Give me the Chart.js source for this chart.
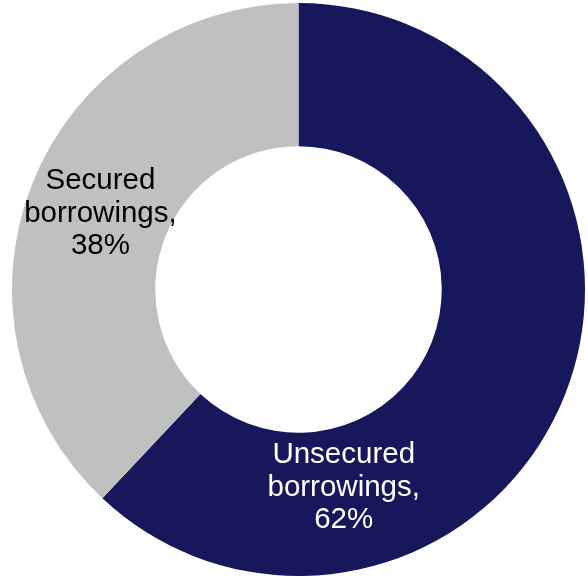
<!DOCTYPE html>
<html>
<head>
<meta charset="utf-8">
<script src="https://cdn.jsdelivr.net/npm/chart.js@4/dist/chart.umd.min.js"></script>
<style>
  html, body { margin: 0; padding: 0; background: #fff; }
  #wrap { width: 588px; height: 576px; }
</style>
</head>
<body>
<div id="wrap"><canvas id="c"></canvas></div>
<script>
// data
const labels = ['Unsecured borrowings', 'Secured borrowings'];
const shares = [62, 38];
const colors = ['#17175B', '#C0C0C0'];
const textColors = ['#ffffff', '#000000'];
// label anchor: angle (deg, clockwise from top) and distance from centre
const labelAngles = [167, 291.6];
const labelDist = [201, 213];

// draw the "name, xx%" labels in three lines
const sliceLabels = {
  id: 'sliceLabels',
  afterDatasetsDraw(chart) {
    const ctx = chart.ctx;
    const meta = chart.getDatasetMeta(0);
    ctx.save();
    ctx.font = '29.5px "Liberation Sans", Arial, sans-serif';
    ctx.textAlign = 'center';
    ctx.textBaseline = 'alphabetic';
    meta.data.forEach(function (arc, i) {
      const a = labelAngles[i] * Math.PI / 180;
      const cx = arc.x + labelDist[i] * Math.sin(a);
      const cy = arc.y - labelDist[i] * Math.cos(a);
      const words = labels[i].split(' ');
      const lines = [words[0], words[1] + ',', shares[i] + '%'];
      ctx.fillStyle = textColors[i];
      lines.forEach(function (t, k) {
        ctx.fillText(t, cx, cy + (k - 1) * 32.5 + 10.5);
      });
    });
    ctx.restore();
  }
};

new Chart(document.getElementById('c'), {
  type: 'doughnut',
  data: {
    labels: labels,
    datasets: [{
      data: shares,
      backgroundColor: colors,
      borderWidth: 0
    }]
  },
  options: {
    responsive: true,
    maintainAspectRatio: false,
    animation: false,
    cutout: '50%',
    layout: { padding: { left: 12, right: 3, top: 3, bottom: 0 } },
    plugins: {
      legend: { display: false },
      tooltip: { enabled: false }
    }
  },
  plugins: [sliceLabels]
});
</script>
</body>
</html>
